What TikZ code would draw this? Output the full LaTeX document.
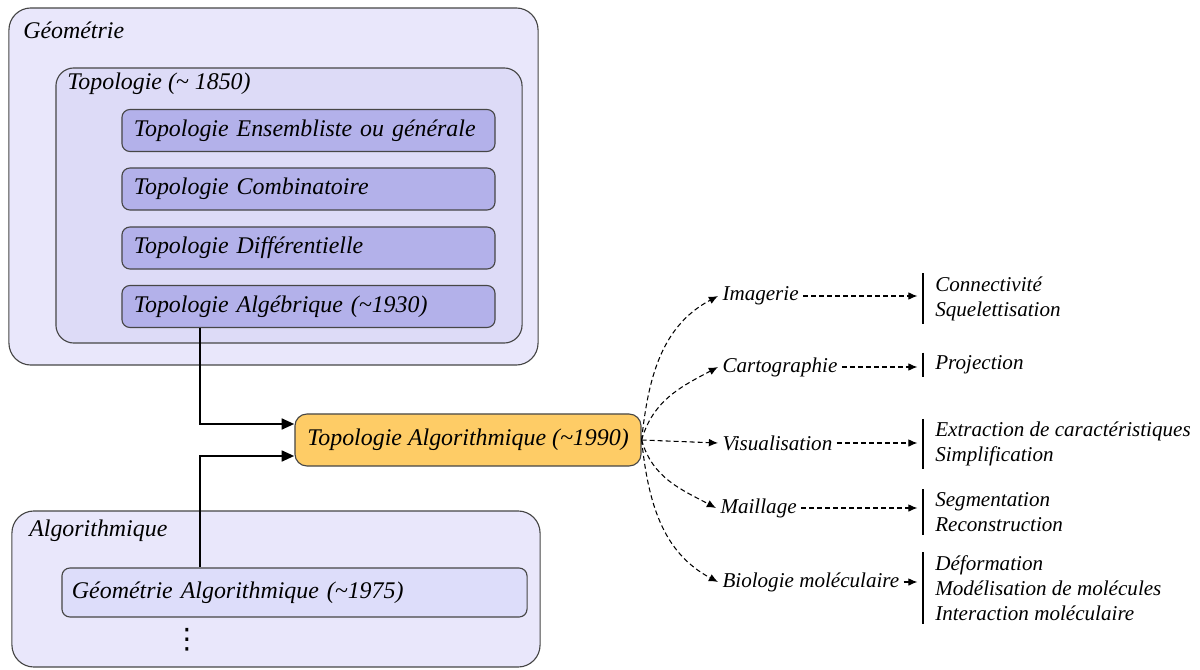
\documentclass[tikz,border=0pt]{standalone}
\usepackage{fontspec}
\setmainfont{Liberation Serif}
\newfontfamily\symbfont{DejaVu Sans}
\usetikzlibrary{arrows.meta}
\definecolor{panelfill}{RGB}{233,231,251}
\definecolor{topofill}{RGB}{221,219,247}
\definecolor{subfill}{RGB}{179,177,234}
\definecolor{gafill}{RGB}{221,221,250}
\definecolor{mainfill}{RGB}{254,204,102}
\definecolor{boxline}{RGB}{70,70,70}

\begin{document}
\begin{tikzpicture}[x=0.025cm, y=-0.025cm,
    panel_style/.style={draw=boxline, line width=0.8pt, rounded corners=0.55cm, inner sep=0pt},
    box_style/.style={draw=boxline, line width=0.8pt, rounded corners=0.2cm, fill=subfill,
        font=\fontsize{17}{20}\selectfont\itshape, align=left, text width=8.725cm,
        inner xsep=0.3cm, inner ysep=0pt, minimum height=1.05cm},
    main_style/.style={draw=boxline, line width=0.8pt, rounded corners=0.3cm, fill=mainfill,
        font=\fontsize{17}{20}\selectfont\itshape, minimum width=8.65cm, minimum height=1.3cm},
    label_style/.style={anchor=west, inner sep=0pt, font=\fontsize{17}{20}\selectfont\itshape},
    app_style/.style={anchor=west, inner sep=3pt, font=\fontsize{15}{18}\selectfont\itshape},
    list_style/.style={anchor=west, align=left, inner xsep=0.3cm, inner ysep=2pt,
        font=\fontsize{15}{17.8}\selectfont\itshape},
    link_style/.style={draw=black, line width=2pt, -{Triangle[length=9pt, width=7.5pt]}},
    dash_style/.style={draw=black, line width=0.75pt, dash pattern=on 3.5pt off 2.2pt,
        shorten >=4pt, -{Latex[length=6.5pt, width=5.5pt]}},
    bar_style/.style={draw=black, line width=0.9pt}]

    \useasboundingbox (0,0) rectangle (1200,669);

    \node[panel_style, fill=panelfill, minimum width=13.225cm, minimum height=8.925cm] (geo) at (273.5,186.5) {};
    \node[panel_style, fill=topofill, rounded corners=0.45cm, minimum width=11.65cm, minimum height=6.875cm] (topo) at (289,205.5) {};
    \node[label_style] (geo_lbl) at (23,30) {Géométrie};
    \node[label_style] (topo_lbl) at (67,84) {Topologie (\textasciitilde{} 1850)};

    \node[box_style] (ens) at (308.5,130.5) {Topologie Ensembliste ou générale};
    \node[box_style] (comb) at (308.5,189) {Topologie Combinatoire};
    \node[box_style] (diff) at (308.5,248) {Topologie Différentielle};
    \node[box_style] (alg) at (308.5,306.5) {Topologie Algébrique (\textasciitilde1930)};

    \node[panel_style, fill=panelfill, minimum width=13.2cm, minimum height=3.9cm] (algo) at (276,589) {};
    \node[label_style] (algo_lbl) at (29,531) {Algorithmique};
    \node[box_style, fill=gafill, text width=11.125cm, inner xsep=0.25cm, minimum height=1.225cm] (ga) at (294.5,592.5) {Géométrie Algorithmique (\textasciitilde1975)};
    \node (dots) at (187,640) {\symbfont\fontsize{20}{22}\selectfont ⋮};

    \node[main_style] (ta) at (468,440) {Topologie Algorithmique (\textasciitilde1990)};

    \draw[link_style] ([xshift=-2.7125cm]alg.south) |- ([yshift=0.4cm]ta.west);
    \draw[link_style] ([xshift=-2.3625cm]ga.north) |- ([yshift=-0.4cm]ta.west);

    \node[app_style] (img) at (718,296) {Imagerie};
    \node[app_style] (carto) at (718,367) {Cartographie};
    \node[app_style] (visu) at (718,443) {Visualisation};
    \node[app_style] (mail) at (716,508) {Maillage};
    \node[app_style] (bio) at (718,582) {Biologie moléculaire};

    \node[list_style] (img_l) at (923,298.5) {Connectivité\\Squelettisation};
    \node[list_style] (carto_l) at (923,365) {Projection};
    \node[list_style] (visu_l) at (923,444) {Extraction de caractéristiques\\Simplification};
    \node[list_style] (mail_l) at (923,512) {Segmentation\\Reconstruction};
    \node[list_style] (bio_l) at (923,588) {Déformation\\Modélisation de molécules\\Interaction moléculaire};

    \draw[bar_style] (img_l.north west) -- (img_l.south west);
    \draw[bar_style] (carto_l.north west) -- (carto_l.south west);
    \draw[bar_style] (visu_l.north west) -- (visu_l.south west);
    \draw[bar_style] (mail_l.north west) -- (mail_l.south west);
    \draw[bar_style] (bio_l.north west) -- (bio_l.south west);

    \draw[dash_style, shorten >=0pt] (ta.east) to[out=84, in=208] (img.west);
    \draw[dash_style, shorten >=0pt] (ta.east) to[out=74, in=208] (carto.west);
    \draw[dash_style, shorten >=0pt] (ta.east) -- (visu.west);
    \draw[dash_style, shorten >=0pt] (ta.east) to[out=-74, in=152] (mail.west);
    \draw[dash_style, shorten >=0pt] (ta.east) to[out=-84, in=152] (bio.west);

    \draw[dash_style] (img) -- (img -| img_l.west);
    \draw[dash_style] (carto) -- (carto -| carto_l.west);
    \draw[dash_style] (visu) -- (visu -| visu_l.west);
    \draw[dash_style] (mail) -- (mail -| mail_l.west);
    \draw[dash_style] (bio) -- (bio -| bio_l.west);
\end{tikzpicture}
\end{document}
